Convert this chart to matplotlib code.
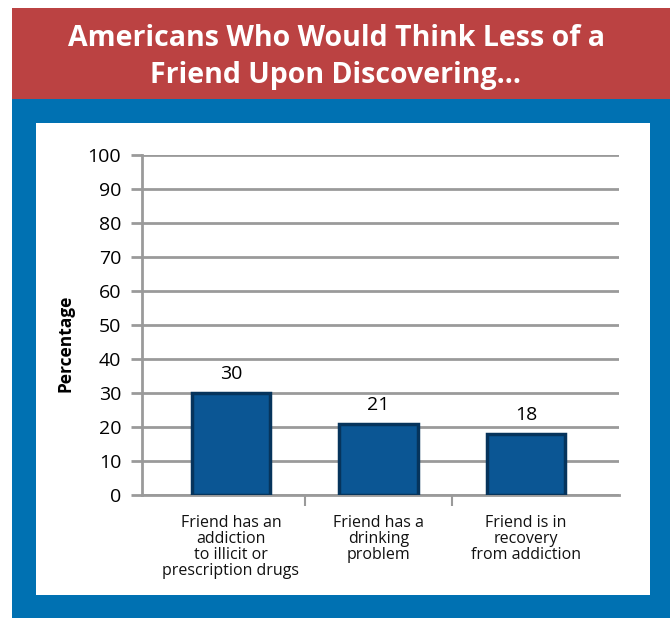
import matplotlib
matplotlib.use("Agg")
from matplotlib import pyplot as plt
from matplotlib.patches import Rectangle
import numpy as np

# data
categories = ["Friend has an\naddiction\nto illicit or\nprescription drugs",
              "Friend has a\ndrinking\nproblem",
              "Friend is in\nrecovery\nfrom addiction"]
values = [30, 21, 18]
yticks = list(range(0, 101, 10))
title = "Americans Who Would Think Less of a\nFriend Upon Discovering..."

W, H = 670, 618
fig = plt.figure(figsize=(W / 100, H / 100), dpi=100)
fig.patch.set_facecolor("white")


def box(x0, y0, x1, y1, color):
    # pixel box, y measured from the top; kept behind the axes
    fig.patches.append(Rectangle((x0 / W, 1 - y1 / H), (x1 - x0) / W, (y1 - y0) / H,
                                 transform=fig.transFigure, facecolor=color,
                                 edgecolor="none", zorder=-5))


box(12, 8, 670, 99, "#bb4242")
box(12, 99, 670, 618, "#0071b2")
box(36, 123, 650, 595, "white")

fig.text(336 / W, 1 - 57 / H, title, ha="center", va="center", color="white",
         fontsize=20.5, fontweight="bold", family="Open Sans", linespacing=1.35)

ax = fig.add_axes([142 / W, 1 - 495 / H, (619 - 142) / W, (495 - 155) / H])
ax.set_facecolor("white")

x = np.arange(len(values))
ax.bar(x, values, width=0.53, color="#0b5694", edgecolor="#06345c", linewidth=2.5, zorder=3)
for xi, v in zip(x, values):
    ax.text(xi, v + 2.8, str(v), ha="center", va="bottom", fontsize=14,
            family="Open Sans", color="black")

ax.set_xlim(-0.603, 2.63)
ax.set_ylim(0, 100)
ax.set_yticks(yticks)
ax.yaxis.grid(True, color="#9a9a9a", linewidth=2, zorder=0)
ax.set_axisbelow(True)
for s in ["top", "right"]:
    ax.spines[s].set_visible(False)
for s in ["left", "bottom"]:
    ax.spines[s].set_color("#9a9a9a")
    ax.spines[s].set_linewidth(2)

ax.tick_params(axis="y", length=8, width=2, color="#9a9a9a", labelsize=14, pad=7)
ax.set_xticks([0.5, 1.5])
ax.set_xticklabels([])
ax.tick_params(axis="x", length=8, width=1.5, color="#9a9a9a")
for lbl in ax.get_yticklabels():
    lbl.set_family("Open Sans")

for xi, c in zip(x, categories):
    ax.text(xi, -6, c, ha="center", va="top", fontsize=11.5, family="Open Sans",
            linespacing=1.0, color="#111111")

ax.set_ylabel("Percentage", fontsize=12.5, fontweight="bold", family="Open Sans")
ax.yaxis.set_label_coords(-0.142, 0.447)

fig.savefig("out.png", dpi=100)
